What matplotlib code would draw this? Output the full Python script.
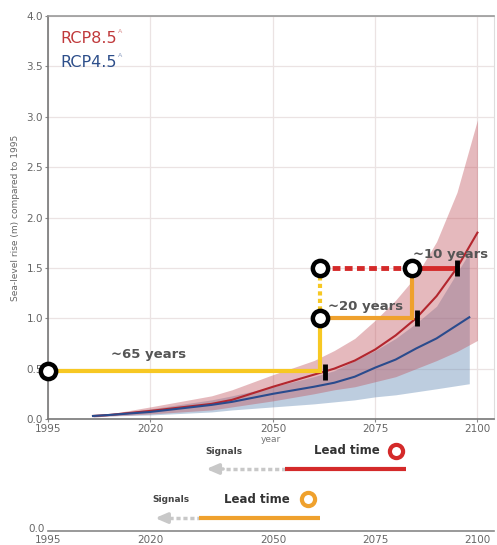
import matplotlib.pyplot as plt
import numpy as np

# median and likely range
annees85 = [2006, 2010, 2020, 2035, 2040, 2050, 2060, 2065, 2070, 2075, 2080, 2085, 2090, 2095, 2100]
rcp85_med = [0.03, 0.04, 0.08, 0.15, 0.19, 0.32, 0.44, 0.50, 0.58, 0.69, 0.83, 1.00, 1.22, 1.50, 1.85]
rcp85_haut = [0.04, 0.05, 0.12, 0.23, 0.29, 0.44, 0.58, 0.68, 0.80, 0.98, 1.18, 1.42, 1.76, 2.25, 2.97]
rcp85_bas = [0.02, 0.03, 0.05, 0.09, 0.12, 0.18, 0.25, 0.29, 0.32, 0.37, 0.42, 0.50, 0.58, 0.67, 0.78]

annees45 = [2006, 2010, 2020, 2035, 2040, 2050, 2060, 2065, 2070, 2075, 2080, 2085, 2090, 2098]
rcp45_med = [0.03, 0.04, 0.07, 0.14, 0.17, 0.25, 0.32, 0.36, 0.42, 0.51, 0.59, 0.70, 0.80, 1.01]
rcp45_haut = [0.04, 0.05, 0.10, 0.19, 0.23, 0.32, 0.42, 0.48, 0.58, 0.68, 0.80, 0.95, 1.12, 1.65]
rcp45_bas = [0.02, 0.03, 0.04, 0.07, 0.09, 0.12, 0.15, 0.17, 0.19, 0.22, 0.24, 0.27, 0.30, 0.35]

# lead time paths (year, sea level)
jaune_x = [1995, 2061.5, 2061.5]
jaune_y = [0.48, 0.48, 1.0]
orange_x = [2061.5, 2084, 2084]
orange_y = [1.0, 1.0, 1.5]
rouge_pointille_x = [2061.5, 2084]
rouge_x = [2084, 2095]
cercles_x = [1995, 2061.5, 2061.5, 2084]
cercles_y = [0.48, 1.0, 1.5, 1.5]
traits_x = [2062.7, 2085.2, 2095]
traits_y = [0.47, 1.0, 1.5]

# legend-like diagrams below the chart (years)
signaux_rouge = [2033, 2038.5, 2053]
lead_rouge = [2053, 2082.5]
signaux_orange = [2020.5, 2024.5, 2032]
lead_orange = [2032, 2061.5]

xticks = [1995, 2020, 2050, 2075, 2100]
yticks = [0.0, 0.5, 1.0, 1.5, 2.0, 2.5, 3.0, 3.5, 4.0]

ROUGE = "#B3262E"
BLEU = "#2A4B8D"
JAUNE = "#F7C823"
ORANGE = "#EFA12D"
ROUGE_VIF = "#D42A2A"
GRIS_TXT = "#555555"

fig = plt.figure(figsize=(4.97, 5.45), dpi=100)
ax = fig.add_axes([0.0966, 0.2312, 0.897, 0.7394])

ax.fill_between(annees45, rcp45_bas, rcp45_haut, color="#5B84B1", alpha=0.4, lw=0, zorder=2)
ax.fill_between(annees85, rcp85_bas, rcp85_haut, color="#C0505A", alpha=0.4, lw=0, zorder=2)
ax.plot(annees85, rcp85_med, color=ROUGE, lw=1.5, zorder=3)
ax.plot(annees45, rcp45_med, color=BLEU, lw=1.5, zorder=3)

ax.plot(jaune_x, jaune_y, color=JAUNE, lw=3, zorder=4, solid_joinstyle="miter")
ax.plot([2061.5, 2061.5], [1.0, 1.5], color=JAUNE, lw=3, dashes=(1.0, 0.8), zorder=4)
ax.plot(orange_x, orange_y, color=ORANGE, lw=3, zorder=4, solid_joinstyle="miter")
ax.plot(rouge_pointille_x, [1.5, 1.5], color=ROUGE_VIF, lw=3.5, dashes=(1.6, 0.9), zorder=4)
ax.plot(rouge_x, [1.5, 1.5], color=ROUGE_VIF, lw=3.5, zorder=4)
ax.plot(traits_x, traits_y, ls="none", marker="|", ms=11, mew=3.5, color="black", zorder=5)
ax.plot(cercles_x, cercles_y, ls="none", marker="o", ms=11, mfc="white", mec="black", mew=3.2,
        zorder=6, clip_on=False)

ax.text(2019.5, 0.58, "~65 years", fontsize=9.5, fontweight="bold", color=GRIS_TXT, ha="center", va="bottom")
ax.text(2063.5, 1.05, "~20 years", fontsize=9.5, fontweight="bold", color=GRIS_TXT, ha="left", va="bottom")
ax.text(2084.2, 1.57, "~10 years", fontsize=9.5, fontweight="bold", color=GRIS_TXT, ha="left", va="bottom")

ax.text(0.028, 0.945, "RCP8.5", transform=ax.transAxes, fontsize=11.5, color="#C0393B", va="center")
ax.text(0.158, 0.962, "A", transform=ax.transAxes, fontsize=4.5, color="#D88A8A", va="center")
ax.text(0.028, 0.885, "RCP4.5", transform=ax.transAxes, fontsize=11.5, color="#2D4E8A", va="center")
ax.text(0.158, 0.902, "A", transform=ax.transAxes, fontsize=4.5, color="#8A9CC0", va="center")

ax.set_xlim(1995, 2104)
ax.set_ylim(0, 4.0)
ax.set_xticks(xticks)
ax.set_yticks(yticks)
ax.set_yticklabels(["%.1f" % v for v in yticks])
ax.tick_params(labelsize=7.5, labelcolor="#666666", length=2, pad=1.5, color="#888888")
ax.grid(True, color="#EBE3E3", lw=0.9, zorder=0)
ax.set_axisbelow(True)
for cote in ["left", "bottom"]:
    ax.spines[cote].set_color("#777777")
    ax.spines[cote].set_linewidth(1.2)
ax.spines["top"].set_color("#999999")
ax.spines["top"].set_linewidth(1.2)
ax.spines["right"].set_color("#DDDDDD")
ax.set_ylabel("Sea-level rise (m) compared to 1995", fontsize=6.5, color="#666666", labelpad=5)
ax.set_xlabel("year", fontsize=6.5, color="#777777", labelpad=1)

# second axis with the lead time key
ax2 = fig.add_axes([0.0966, 0.0257, 0.897, 0.158])
ax2.set_xlim(1995, 2104)
ax2.set_ylim(0, 1)
for cote in ["left", "top", "right"]:
    ax2.spines[cote].set_visible(False)
ax2.spines["bottom"].set_color("#888888")
ax2.spines["bottom"].set_linewidth(1.2)
ax2.set_xticks(xticks)
ax2.set_yticks([0.04])
ax2.set_yticklabels(["0.0"])
ax2.tick_params(labelsize=7.5, labelcolor="#666666", length=0, pad=2)
ax2.tick_params(axis="x", pad=3)
ax2.patch.set_alpha(0)

GRIS = "#C8C8C8"
y_r = 0.72
ax2.annotate("", xy=(signaux_rouge[0], y_r), xytext=(signaux_rouge[1], y_r),
             arrowprops=dict(arrowstyle="-|>,head_length=0.7,head_width=0.3", color=GRIS, lw=2.5))
ax2.plot([signaux_rouge[1], signaux_rouge[2]], [y_r, y_r], color=GRIS, lw=2.5, dashes=(1.2, 0.8))
ax2.plot(lead_rouge, [y_r, y_r], color=ROUGE_VIF, lw=3, solid_capstyle="butt")
ax2.text(2038, 0.92, "Signals", fontsize=6.5, fontweight="bold", color="#444444", ha="center", va="center")
ax2.text(2068, 0.93, "Lead time", fontsize=8.5, fontweight="bold", color="#333333", ha="center", va="center")
ax2.plot([2080], [0.93], marker="o", ms=9.5, mfc="white", mec=ROUGE_VIF, mew=3, clip_on=False)

y_o = 0.15
ax2.annotate("", xy=(signaux_orange[0], y_o), xytext=(signaux_orange[1], y_o),
             arrowprops=dict(arrowstyle="-|>,head_length=0.7,head_width=0.3", color=GRIS, lw=2.5))
ax2.plot([signaux_orange[1], signaux_orange[2]], [y_o, y_o], color=GRIS, lw=2.5, dashes=(1.2, 0.8))
ax2.plot(lead_orange, [y_o, y_o], color=ORANGE, lw=3, solid_capstyle="butt")
ax2.text(2025, 0.36, "Signals", fontsize=6.5, fontweight="bold", color="#444444", ha="center", va="center")
ax2.text(2046, 0.37, "Lead time", fontsize=8.5, fontweight="bold", color="#333333", ha="center", va="center")
ax2.plot([2058.5], [0.37], marker="o", ms=9.5, mfc="white", mec=ORANGE, mew=3, clip_on=False)

fig.savefig("out.png", dpi=100)
